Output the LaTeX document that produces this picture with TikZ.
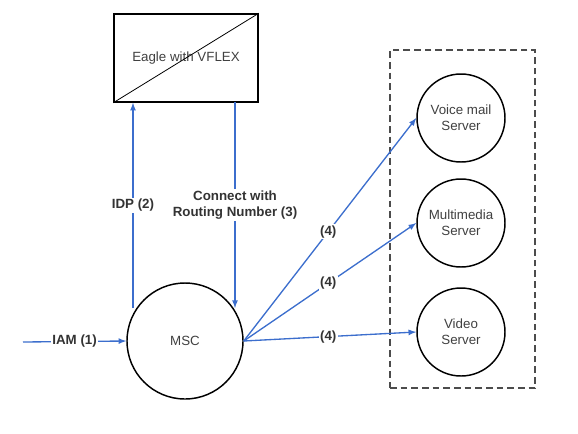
\documentclass[tikz,border=0pt]{standalone}
\usepackage{fontspec}
\setmainfont{Liberation Sans}
\usepackage{tikz}
\usetikzlibrary{calc}
\definecolor{linkblue}{RGB}{60,110,205}

\begin{document}
\begin{tikzpicture}[x=0.75pt,y=-0.75pt]
\useasboundingbox (0,0) rectangle (578,433);
\tikzstyle{server}=[circle,draw,line width=1.1pt,minimum size=66pt,inner sep=0pt,align=center,font=\fontsize{10}{12}\selectfont,text=black!75]
\tikzstyle{lbl}=[fill=white,inner sep=1pt,font=\bfseries\fontsize{10}{12}\selectfont,text=black!80,align=center]
\tikzstyle{link}=[->,>=latex,line width=1pt,color=linkblue]

% switch box
\node[draw,line width=1.1pt,minimum width=108pt,minimum height=66pt,font=\fontsize{10}{12}\selectfont,text=black!75] (eagle) at (186,58) {Eagle with VFLEX};
\draw[line width=0.6pt] (eagle.south west) to (eagle.north east);

\node[server,minimum size=87pt] (msc) at (185,341) {MSC};

% servers
\node[draw,dash pattern=on 5pt off 3pt,line width=0.8pt,color=black!70,minimum width=108.75pt,minimum height=253.5pt] (group) at (462.5,219) {};
\node[server] (vm) at (461,118) {Voice mail\\Server};
\node[server] (mm) at (461,223) {Multimedia\\Server};
\node[server] (vd) at (461,332) {Video\\Server};

\coordinate (in) at (23,342);
\coordinate (idp) at (133,308);
\coordinate (con) at (235,102);

\draw[link] (in) to node[lbl] {IAM (1)} (msc.west);
\draw[link] (idp) to node[lbl] {IDP (2)} (idp |- eagle.south);
\draw[link] (con) to node[lbl] {Connect with\\Routing Number (3)} (con |- idp);
\draw[link] (msc.east) to node[lbl,pos=0.49] {(4)} (vm.west);
\draw[link] (msc.east) to node[lbl,pos=0.49] {(4)} (mm.west);
\draw[link] (msc.east) to node[lbl,pos=0.49] {(4)} (vd.west);
\end{tikzpicture}
\end{document}
